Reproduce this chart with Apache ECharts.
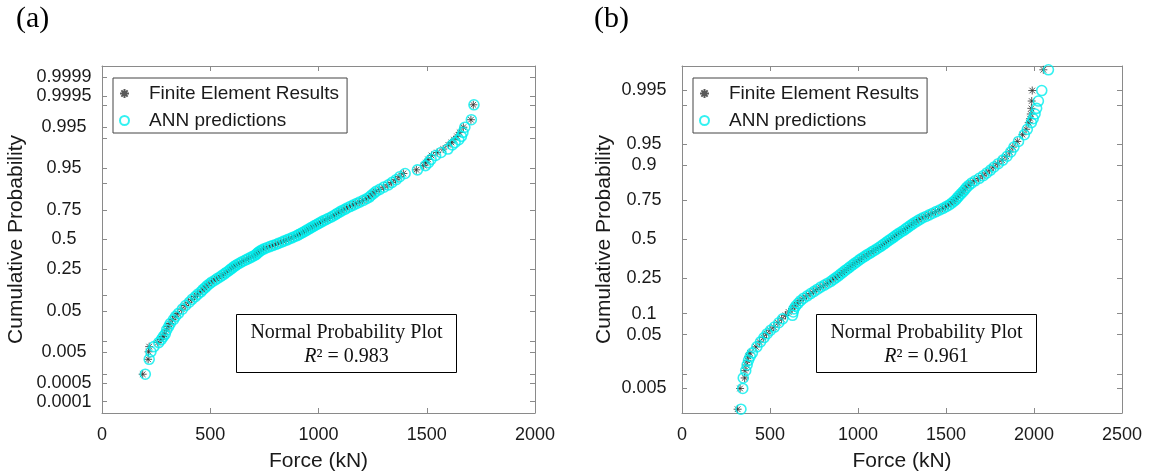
<!DOCTYPE html>
<html>
<head>
<meta charset="utf-8">
<script src="https://cdn.jsdelivr.net/npm/echarts@6/dist/echarts.min.js"></script>
<style>
  html, body { margin: 0; padding: 0; background: #fff; }
  #chart { width: 1150px; height: 475px; }
</style>
</head>
<body>
<div id="chart"></div>
<script>
// ---- Panel (a): cumulative probabilities and forces (kN) ----
const probA = [0.001,0.003,0.005,0.007,0.009,0.011,0.013,0.015,0.019,0.023,0.027,0.033,0.039,0.045,
  0.055,0.065,0.075,0.085,0.095,0.105,0.115,0.125,0.135,0.145,0.155,0.165,0.175,0.185,0.195,0.205,0.215,0.225,0.235,0.245,
  0.255,0.265,0.275,0.285,0.295,0.305,0.315,0.325,0.335,0.345,0.355,0.365,0.375,0.385,0.395,0.405,0.415,0.425,0.435,0.445,
  0.455,0.465,0.475,0.485,0.495,0.505,0.515,0.525,0.535,0.545,0.555,0.565,0.575,0.585,0.595,0.605,0.615,0.625,0.635,0.645,
  0.655,0.665,0.675,0.685,0.695,0.705,0.715,0.725,0.735,0.745,0.755,0.765,0.775,0.785,0.795,0.805,0.815,0.825,0.835,0.845,
  0.855,0.865,0.875,0.885,0.895,0.905,0.915,0.925,0.935,0.945,
  0.955,0.961,0.967,0.973,0.977,0.981,0.985,0.987,0.989,0.991,0.993,0.995,0.997,0.999];
const feForceA = [188,213,215,218,258,272,282,288,297,305,314,326,338,350,
  368,384,400,414,428,441,454,464,474,484,494,506,518,530,542,553,563,572,581,590,
  598,606,614,624,634,645,656,667,678,690,700,708,714,720,727,736,746,758,772,786,
  800,813,826,838,850,862,874,886,898,907,916,926,935,944,953,962,971,980,990,999,
  1009,1020,1031,1042,1054,1065,1075,1084,1094,1105,1118,1130,1143,1158,1172,1188,1204,1220,1232,1242,
  1252,1264,1280,1300,1320,1338,1356,1372,1392,1452,
  1486,1496,1506,1522,1548,1576,1600,1614,1626,1640,1652,1669,1704,1715];
const annForceA = [200,218,226,240,262,275,283,292,299,308,315,330,340,353,
  371,386,403,416,431,443,457,466,477,486,497,508,521,532,545,555,566,574,584,592,
  601,608,617,626,637,647,659,669,681,692,703,711,717,722,730,738,749,761,775,788,
  803,815,829,840,853,864,877,888,901,909,919,928,938,946,956,964,974,982,993,1001,
  1012,1022,1034,1044,1057,1067,1078,1086,1097,1107,1121,1132,1146,1160,1175,1190,1207,1222,1235,1244,
  1255,1266,1283,1302,1323,1340,1359,1375,1400,1457,
  1494,1508,1520,1541,1566,1598,1618,1631,1648,1660,1667,1676,1706,1718];

// ---- Panel (b): cumulative probabilities and forces (kN) ----
const probB = [0.00167,0.005,0.00833,0.01167,0.015,0.01833,0.02167,0.025,
  0.03167,0.03833,0.045,0.05167,0.05833,0.065,
  0.075,0.085,0.095,0.105,0.115,0.125,0.135,0.145,0.155,0.165,0.175,0.185,0.195,0.205,0.215,0.225,0.235,0.245,
  0.255,0.265,0.275,0.285,0.295,0.305,0.315,0.325,0.335,0.345,0.355,0.365,0.375,0.385,0.395,0.405,0.415,0.425,
  0.435,0.445,0.455,0.465,0.475,0.485,0.495,0.505,0.515,0.525,0.535,0.545,0.555,0.565,0.575,0.585,0.595,0.605,
  0.615,0.625,0.635,0.645,0.655,0.665,0.675,0.685,0.695,0.705,0.715,0.725,0.735,0.745,0.755,0.765,0.775,0.785,
  0.795,0.805,0.815,0.825,0.835,0.845,0.855,0.865,0.875,0.885,0.895,0.905,0.915,0.925,0.935,0.945,0.955,0.965,
  0.97167,0.97833,0.98167,0.985,0.98833,0.99167,0.995,0.99833];
const feForceB = [316,330,356,358,364,371,377,386,
  420,440,462,480,500,522,
  545,566,588,606,625,640,655,670,688,708,728,748,766,785,806,825,842,858,
  872,885,898,911,923,936,948,960,972,984,996,1008,1021,1035,1048,1062,1076,1090,
  1103,1116,1128,1140,1152,1163,1174,1186,1198,1209,1220,1232,1245,1258,1270,1282,1294,1306,
  1318,1332,1346,1362,1382,1401,1420,1440,1460,1479,1497,1514,1528,1540,1552,1561,1570,1581,
  1592,1602,1612,1625,1640,1660,1684,1708,1728,1748,1768,1792,1818,1842,1862,1880,1905,1935,
  1955,1970,1978,1982,1985,1987,1990,2053];
const annForceB = [335,345,348,362,370,378,388,400,
  425,446,466,484,503,525,
  550,572,628,632,636,646,660,674,691,712,731,751,770,788,809,828,846,861,
  875,889,901,914,926,939,951,963,975,987,1000,1011,1024,1038,1051,1066,1079,1093,
  1106,1119,1131,1143,1155,1166,1177,1189,1201,1212,1224,1236,1249,1262,1273,1285,1297,1309,
  1322,1336,1350,1366,1386,1405,1424,1444,1464,1483,1501,1518,1532,1544,1556,1565,1574,1585,
  1596,1606,1616,1629,1645,1665,1689,1712,1732,1753,1773,1797,1823,1847,1868,1886,1912,1945,
  1962,1985,1995,2006,2015,2025,2044,2082];

// ---- Probability-axis ticks and labels ----
const tickProbsA = [0.0001,0.0005,0.001,0.005,0.01,0.05,0.1,0.25,0.5,0.75,0.9,0.95,0.99,0.995,0.999,0.9995,0.9999];
const labelTextsA = ['0.0001','0.0005','0.005','0.05','0.25','0.5','0.75','0.95','0.995','0.9995','0.9999'];
const tickProbsB = [0.005,0.01,0.05,0.1,0.25,0.5,0.75,0.9,0.95,0.99,0.995];
const labelTextsB = ['0.005','0.05','0.1','0.25','0.5','0.75','0.9','0.95','0.995'];

const seriesNames = ['Finite Element Results', 'ANN predictions'];
const fitTextA = '0.983';
const fitTextB = '0.961';

// Inverse standard normal CDF (Acklam's rational approximation); the probability axis is linear in it.
function probit(p) {
  const a = [-3.969683028665376e+01, 2.209460984245205e+02, -2.759285104469687e+02, 1.383577518672690e+02, -3.066479806614716e+01, 2.506628277459239e+00];
  const b = [-5.447609879822406e+01, 1.615858368580409e+02, -1.556989798598866e+02, 6.680131188771972e+01, -1.328068155288572e+01];
  const c = [-7.784894002430293e-03, -3.223964580411365e-01, -2.400758277161838e+00, -2.549732539343734e+00, 4.374664141464968e+00, 2.938163982698783e+00];
  const d = [7.784695709041462e-03, 3.224671290700398e-01, 2.445134137142996e+00, 3.754408661907416e+00];
  const pl = 0.02425, ph = 1 - pl;
  let q, r;
  if (p < pl) {
    q = Math.sqrt(-2 * Math.log(p));
    return (((((c[0]*q+c[1])*q+c[2])*q+c[3])*q+c[4])*q+c[5]) / ((((d[0]*q+d[1])*q+d[2])*q+d[3])*q+1);
  }
  if (p <= ph) {
    q = p - 0.5; r = q * q;
    return (((((a[0]*r+a[1])*r+a[2])*r+a[3])*r+a[4])*r+a[5])*q / (((((b[0]*r+b[1])*r+b[2])*r+b[3])*r+b[4])*r+1);
  }
  q = Math.sqrt(-2 * Math.log(1 - p));
  return -(((((c[0]*q+c[1])*q+c[2])*q+c[3])*q+c[4])*q+c[5]) / ((((d[0]*q+d[1])*q+d[2])*q+d[3])*q+1);
}

const SANS = '"Liberation Sans", Arial, sans-serif';
const SERIF = '"Liberation Serif", "Times New Roman", serif';
const AXIS_COLOR = '#8a8a8a';
const TEXT_COLOR = '#1a1a1a';
const STAR_COLOR = '#303030';
const RING_COLOR = '#00eded';
const STAR_PATH = 'path://M5 0L5 10M0 5L10 5M1.5 1.5L8.5 8.5M1.5 8.5L8.5 1.5';

function pairs(force, prob) {
  const n = Math.min(force.length, prob.length);
  const out = [];
  for (let i = 0; i < n; i++) out.push([force[i], probit(prob[i])]);
  return out;
}

function labelFormatter(texts) {
  const table = texts.map(t => [probit(parseFloat(t)), t]);
  return function (v) {
    let best = '', bd = Infinity;
    table.forEach(([z, t]) => { const dd = Math.abs(z - v); if (dd < bd) { bd = dd; best = t; } });
    return best;
  };
}

function forceAxes(gridIndex, max) {
  const common = {
    type: 'value', gridIndex, min: 0, max, interval: 500,
    axisLine: { show: true, onZero: false, lineStyle: { color: AXIS_COLOR, width: 1 } },
    axisTick: { show: true, inside: true, length: 5, lineStyle: { color: AXIS_COLOR } },
    splitLine: { show: false }
  };
  return [
    Object.assign({}, common, {
      position: 'bottom',
      name: 'Force (kN)', nameLocation: 'middle', nameGap: 38,
      nameTextStyle: { fontSize: 21, color: TEXT_COLOR, fontFamily: SANS },
      axisLabel: { fontSize: 18, color: TEXT_COLOR, fontFamily: SANS, margin: 13, formatter: v => String(v) }
    }),
    Object.assign({}, common, { position: 'top', axisLabel: { show: false } })
  ];
}

function probAxes(gridIndex, zMax, tickProbs, labelTexts, nameGap) {
  const tickZ = tickProbs.map(probit);
  const common = {
    type: 'value', gridIndex, min: -zMax, max: zMax,
    axisLine: { show: true, onZero: false, lineStyle: { color: AXIS_COLOR, width: 1 } },
    axisTick: { show: true, inside: true, length: 5, customValues: tickZ, lineStyle: { color: AXIS_COLOR } },
    splitLine: { show: false }
  };
  return [
    Object.assign({}, common, {
      position: 'left',
      name: 'Cumulative Probability', nameLocation: 'middle', nameGap, nameRotate: 90,
      nameTextStyle: { fontSize: 21, color: TEXT_COLOR, fontFamily: SANS },
      axisLabel: {
        customValues: labelTexts.map(t => probit(parseFloat(t))),
        formatter: labelFormatter(labelTexts),
        fontSize: 18, color: TEXT_COLOR, fontFamily: SANS, align: 'center', margin: 38
      }
    }),
    Object.assign({}, common, { position: 'right', axisLabel: { show: false } })
  ];
}

function scatterPair(xIdx, yIdx, feData, annData) {
  return [
    {
      name: seriesNames[0], type: 'scatter', xAxisIndex: xIdx, yAxisIndex: yIdx,
      data: feData, symbol: STAR_PATH, symbolSize: 8, clip: false,
      itemStyle: { color: 'rgba(0,0,0,0)', borderColor: STAR_COLOR, borderWidth: 1 },
      emphasis: { disabled: true }
    },
    {
      name: seriesNames[1], type: 'scatter', xAxisIndex: xIdx, yAxisIndex: yIdx,
      data: annData, symbol: 'circle', symbolSize: 10, clip: false,
      itemStyle: { color: 'rgba(0,0,0,0)', borderColor: RING_COLOR, borderWidth: 1.6 },
      emphasis: { disabled: true }
    }
  ];
}

function legendAt(left) {
  return {
    data: seriesNames, orient: 'vertical', left, top: 78,
    padding: [6, 8, 3, 6], itemGap: 8, itemWidth: 39, itemHeight: 9,
    borderColor: '#444', borderWidth: 1, backgroundColor: '#fff',
    selectedMode: false,
    textStyle: { fontSize: 19, color: TEXT_COLOR, fontFamily: SANS }
  };
}

function fitBox(left, top, fitText) {
  return {
    type: 'group', left, top,
    children: [
      { type: 'rect', shape: { x: 0, y: 0, width: 220, height: 58 },
        style: { fill: '#fff', stroke: '#000', lineWidth: 1 } },
      { type: 'text', style: { x: 110, y: 18, text: 'Normal Probability Plot', textAlign: 'center', textVerticalAlign: 'middle',
        fontSize: 20, fontFamily: SERIF, fill: '#111' } },
      { type: 'text', style: { x: 110, y: 42, text: '{i|R}² = ' + fitText, textAlign: 'center', textVerticalAlign: 'middle',
        fontSize: 20, fontFamily: SERIF, fill: '#111',
        rich: { i: { fontStyle: 'italic', fontSize: 20, fontFamily: SERIF, fill: '#111' } } } }
    ]
  };
}

const chart = echarts.init(document.getElementById('chart'), null, { renderer: 'canvas' });

chart.setOption({
  animation: false,
  backgroundColor: '#fff',
  grid: [
    { left: 102, top: 66, width: 433, height: 347, containLabel: false, outerBoundsMode: 'none' },
    { left: 682, top: 66, width: 440, height: 347, containLabel: false, outerBoundsMode: 'none' }
  ],
  xAxis: [].concat(forceAxes(0, 2000), forceAxes(1, 2500)),
  yAxis: [].concat(
    probAxes(0, 3.98, tickProbsA, labelTextsA, 75),
    probAxes(1, 3.0, tickProbsB, labelTextsB, 67)
  ),
  legend: [legendAt(113), legendAt(693)],
  series: [].concat(
    scatterPair(0, 0, pairs(feForceA, probA), pairs(annForceA, probA)),
    scatterPair(2, 2, pairs(feForceB, probB), pairs(annForceB, probB))
  ),
  graphic: [
    { type: 'text', left: 16, top: 4, style: { text: '(a)', fontSize: 30, fontFamily: SERIF, fill: '#000' } },
    { type: 'text', left: 594, top: 4, style: { text: '(b)', fontSize: 30, fontFamily: SERIF, fill: '#000' } },
    fitBox(236, 314, fitTextA),
    fitBox(816, 314, fitTextB)
  ]
});
</script>
</body>
</html>
